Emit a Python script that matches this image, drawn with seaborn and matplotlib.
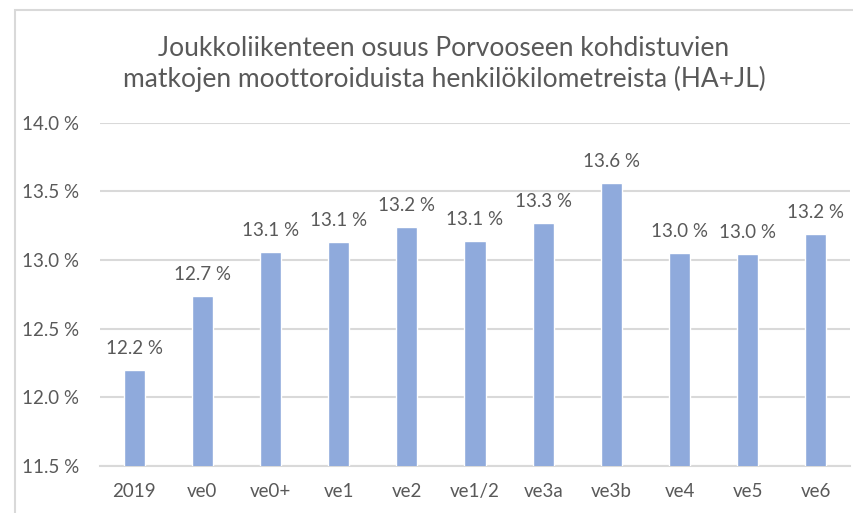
import matplotlib
matplotlib.use("Agg")
import matplotlib.pyplot as plt
import seaborn as sns
import pandas as pd
from matplotlib.patches import Rectangle

categories = ["2019", "ve0", "ve0+", "ve1", "ve2", "ve1/2", "ve3a", "ve3b", "ve4", "ve5", "ve6"]
values = [12.20, 12.74, 13.06, 13.13, 13.24, 13.14, 13.27, 13.56, 13.049, 13.04, 13.19]
yticks = [11.5, 12.0, 12.5, 13.0, 13.5, 14.0]
title = "Joukkoliikenteen osuus Porvooseen kohdistuvien\nmatkojen moottoroiduista henkilökilometreista (HA+JL)"

df = pd.DataFrame({"cat": categories, "val": values})

sns.set_theme(style="white")
plt.rcParams["font.family"] = ["Lato", "DejaVu Sans"]

W, H = 854, 513
fig = plt.figure(figsize=(W / 100, H / 100), dpi=100)
ax = fig.add_axes([100 / W, (H - 465.7) / H, 750 / W, (465.7 - 122.7) / H])

text_col = "#595959"
bar_col = "#8FAADC"
grid_col = "#D9D9D9"

sns.barplot(data=df, x="cat", y="val", color=bar_col, width=0.31, ax=ax,
            saturation=1, zorder=3)

ax.set_ylim(11.5, 14.0)
ax.set_xlim(-0.5, len(categories) - 0.5)
ax.set_yticks(yticks)
ax.set_yticklabels([f"{t:.1f} %" for t in yticks])
ax.yaxis.grid(True, color=grid_col, linewidth=1.5, zorder=0)
ax.set_axisbelow(True)
for s in ["top", "right", "left"]:
    ax.spines[s].set_visible(False)
ax.spines["bottom"].set_color(grid_col)
ax.spines["bottom"].set_linewidth(1.5)
ax.set_xlabel("")
ax.set_ylabel("")
ax.tick_params(axis="y", length=0, pad=15, labelsize=13.5, labelcolor=text_col)
ax.tick_params(axis="x", length=0, pad=12.5, labelsize=13.5, labelcolor=text_col)

for i, v in enumerate(values):
    ax.annotate(f"{v:.1f} %", xy=(i, v), xytext=(0, 15.5), textcoords="offset points",
                ha="center", va="center", fontsize=13.5, color=text_col)

fig.text(444 / W, 1 - 64 / H, title, ha="center", va="center", fontsize=19,
         color=text_col, linespacing=1.22)

fig.patches.append(Rectangle((15 / W, -0.1), 1.2, (H - 10) / H + 0.1, transform=fig.transFigure,
                             fill=False, edgecolor=grid_col, linewidth=1.5))

fig.savefig("out.png", dpi=100)
